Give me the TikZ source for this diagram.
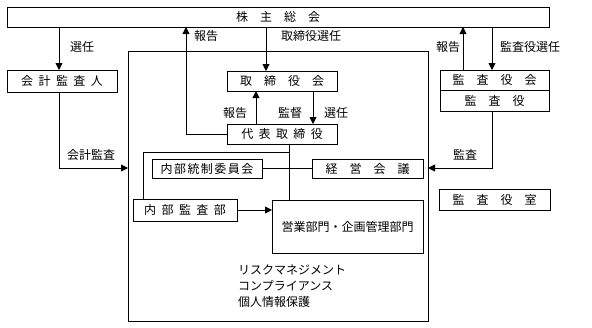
\documentclass[tikz,border=0pt]{standalone}
\usepackage{fontspec}
\setmainfont{Noto Sans CJK JP}[WordSpace=2]
\usepackage{tikz}
\usetikzlibrary{arrows.meta,positioning,calc}

\begin{document}
\begin{tikzpicture}[x=1pt, y=-1pt,
  box/.style={draw, line width=0.9pt, inner sep=0pt, outer sep=0pt, minimum height=20pt, font=\fontsize{12}{14}\selectfont},
  lbl/.style={inner sep=1pt, font=\fontsize{12}{14}\selectfont},
  arr/.style={-{Triangle[length=7pt,width=7pt]}, line width=0.9pt},
  ln/.style={line width=0.9pt}
]
  \useasboundingbox (0,0) rectangle (592,327);

  \node[box, minimum width=542pt] (somu) at (278,17) {株　主　総　会};
  \node[box, minimum width=110pt, minimum height=22pt] (kaikei) at (62,81) {会 計 監 査 人};
  \node[box, minimum width=300pt, minimum height=270pt] (frame) at (278,186) {};
  \node[box, minimum width=110pt] (torikai) at (282,81) {取　締　役　会};
  \node[box, minimum width=110pt, below=33pt of torikai] (daihyo) {代 表 取 締 役};
  \node[box, minimum width=109pt] (kansakai) at (494.5,80) {監　査　役　会};
  \node[box, minimum width=109pt, minimum height=21pt, below=0pt of kansakai] (kansayaku) {監　査　役};
  \node[box, minimum width=111pt, minimum height=21pt] (shitsu) at (494.5,199.5) {監　査　役　室};
  \node[box, minimum width=110pt, minimum height=19pt, font=\fontsize{12}{14}\selectfont\addfontfeature{LetterSpace=12}] (tosei) at (207,168.5) {内部統制委員会};
  \node[box, minimum width=111pt, minimum height=19pt] (keiei) at (367.5,168.5) {経　営　会　議};
  \node[box, minimum width=104pt, minimum height=22pt] (naibu) at (185,210) {内 部 監 査 部};
  \node[box, minimum width=151pt, minimum height=53pt] (eigyo) at (347.5,226.5) {営業部門・企画管理部門};
  \node[lbl, align=left, anchor=north west, font=\fontsize{12}{16}\selectfont] (risk) at (237,264) {リスクマネジメント\\コンプライアンス\\個人情報保護};

  \node[lbl] (l1) at (82,47) {選任};
  \node[lbl] (l2) at (206,36) {報告};
  \node[lbl] (l3) at (311,36) {取締役選任};
  \node[lbl] (l4) at (235,113) {報告};
  \node[lbl] (l5) at (290,113) {監督};
  \node[lbl] (l6) at (336,113) {選任};
  \node[lbl] (l7) at (448,47) {報告};
  \node[lbl] (l8) at (530,47) {監査役選任};
  \node[lbl] (l9) at (91,155) {会計監査};
  \node[lbl] (l10) at (465,155) {監査};

  \draw[arr] (59,0 |- somu.south) -- (59,0 |- kaikei.north);
  \draw[arr] (daihyo.west) -| (186,0 |- somu.south);
  \draw[arr] (266,0 |- somu.south) -- (266,0 |- torikai.north);
  \draw[arr] (256,0 |- daihyo.north) -- (256,0 |- torikai.south);
  \draw[arr] (313,0 |- torikai.south) -- (313,0 |- daihyo.north);
  \draw[arr] (463,0 |- kansakai.north) -- (463,0 |- somu.south);
  \draw[arr] (492,0 |- somu.south) -- (492,0 |- kansakai.north);
  \draw[arr] (492,0 |- kansayaku.south) |- (frame.east |- 0,168);
  \draw[arr] (59,0 |- kaikei.south) |- (frame.west |- 0,168);
  \draw[ln] (tosei.east) -- (keiei.west);
  \draw[ln] (289,0 |- daihyo.south) -- (289,0 |- eigyo.north);
  \draw[ln] (143,0 |- naibu.north) |- (289,152);
  \draw[arr] (naibu.east) -- (naibu.east -| eigyo.west);
\end{tikzpicture}
\end{document}
